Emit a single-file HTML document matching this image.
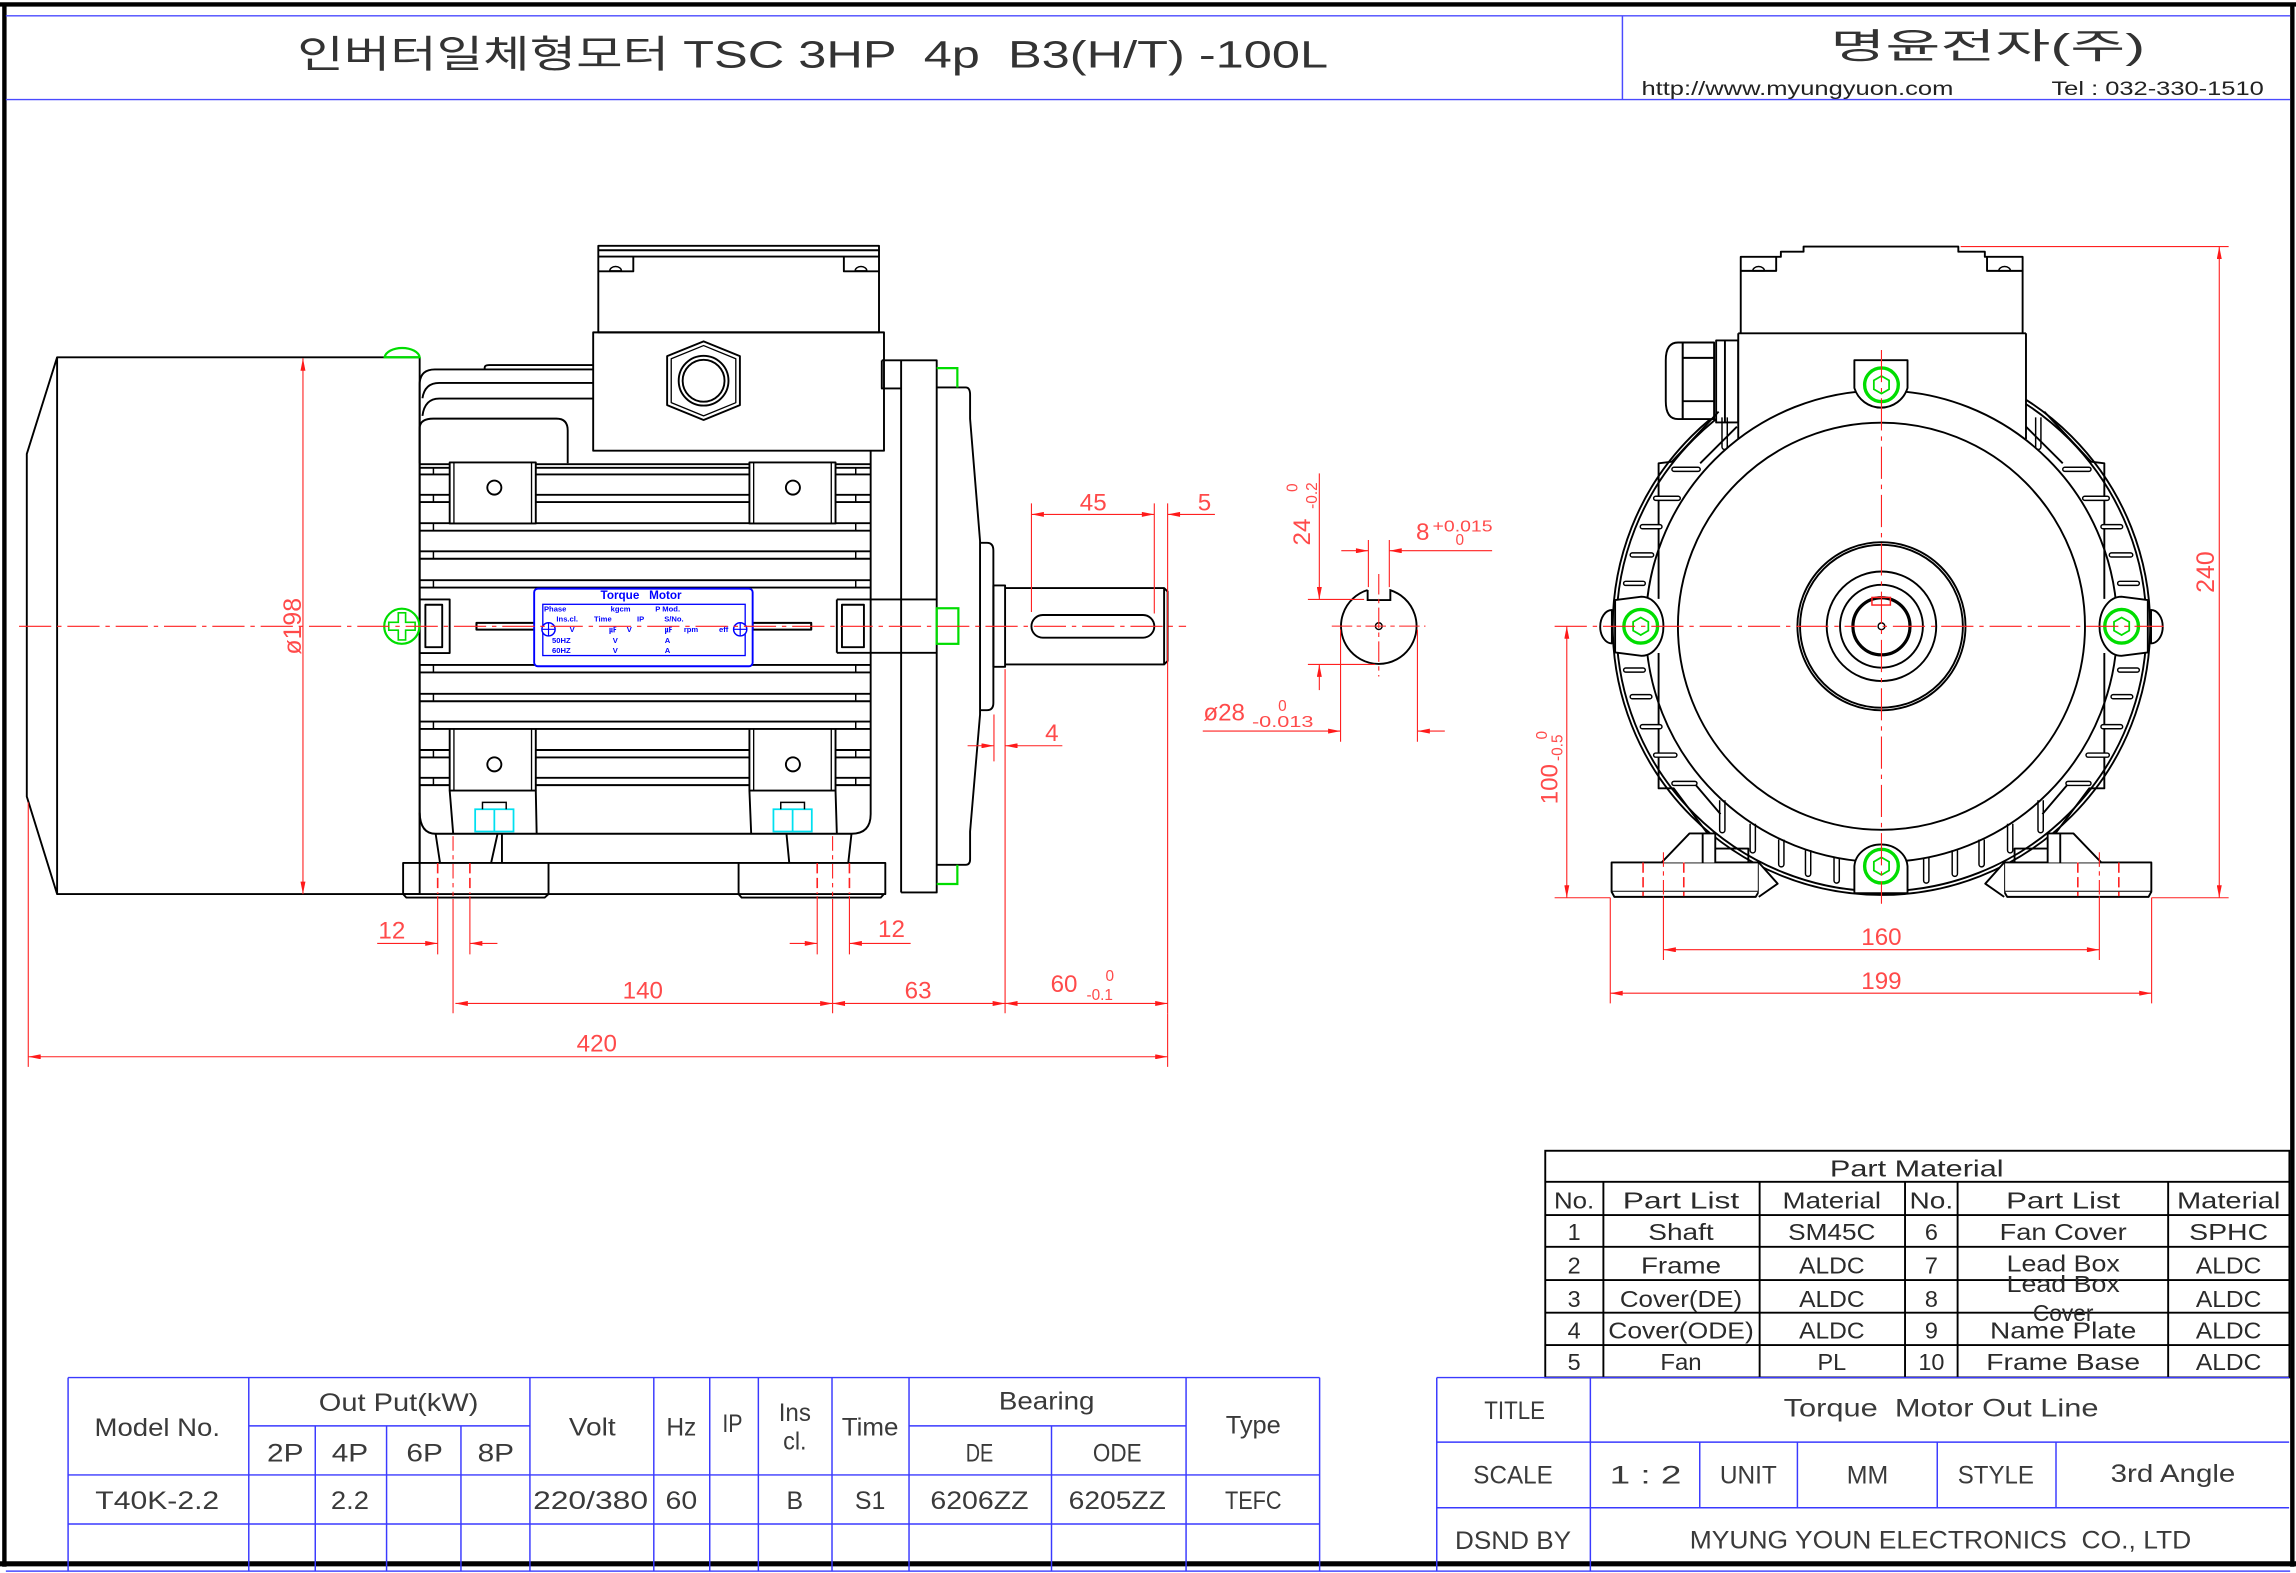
<!DOCTYPE html>
<html><head><meta charset="utf-8">
<style>
html,body{margin:0;padding:0;background:#fff;}
svg{display:block;}
</style></head><body>
<svg width="2296" height="1573" viewBox="0 0 1568 1074.26" preserveAspectRatio="none" xmlns="http://www.w3.org/2000/svg" font-family="'Liberation Sans','Noto Sans CJK KR',sans-serif">
<defs>
<marker id="ar" viewBox="0 0 10 4" refX="10" refY="2" markerWidth="9" markerHeight="3.4" markerUnits="userSpaceOnUse" orient="auto-start-reverse"><path d="M0,0L10,2L0,4Z" fill="#ff1a1a"/></marker>
</defs>
<rect x="0" y="0" width="1568" height="1074.26" fill="#fff"/>

<!-- border -->
<g stroke="#000" fill="none">
<line x1="0" y1="3" x2="1568" y2="3" stroke-width="3"/>
<line x1="3" y1="2" x2="3" y2="1070" stroke-width="3"/>
<line x1="1565.5" y1="2" x2="1565.5" y2="1070" stroke-width="3"/>
<line x1="0" y1="1068" x2="1568" y2="1068" stroke-width="3.5"/>
</g>
<path d="M4,10.8H1564 M4,68H1564 M1108,10.8V68 M4,1073H1564" stroke="#4a4aff" stroke-width="1" fill="none"/>

<!-- header text -->
<text x="203" y="46" font-size="26" textLength="704" lengthAdjust="spacingAndGlyphs" fill="#333" style="white-space:pre">인버터일체형모터 TSC 3HP  4p  B3(H/T) -100L</text>
<text x="1250" y="40" font-size="24" textLength="215" lengthAdjust="spacingAndGlyphs" fill="#333">명윤전자(주)</text>
<text x="1121" y="65" font-size="13" textLength="213" lengthAdjust="spacingAndGlyphs" fill="#222">http://www.myungyuon.com</text>
<text x="1401" y="65" font-size="13" textLength="145" lengthAdjust="spacingAndGlyphs" fill="#222">Tel : 032-330-1510</text>

<!-- ================= LEFT VIEW ================= -->
<g stroke="#000" stroke-width="1.3" fill="none" stroke-linejoin="round">
<path d="M39,244H286.6V610.6H39Z M39,244L18.3,310V544L39,610.6"/>
<path d="M331,252.3V251Q331,249.3 334,249.3H405"/>
<path d="M286.6,262Q287,252.3 297,252.3H405"/>
<path d="M288.5,272Q290,261.5 300,261.5H405"/>
<path d="M288.5,284Q290,272.2 300,272.2H405"/>
<path d="M286.6,316.4V292Q287,285.9 296,285.9H380Q387.7,285.9 387.7,294V316.4"/>
<path d="M286.6,262V589.3"/>
<path d="M408.6,167.9H600.3V227H408.6Z M408.6,170.9H600.3 M408.6,175.2H600.3"/>
<path d="M432.5,175.2V185.3H408.6 M576.3,175.2V185.3H600.3"/>
<path d="M416.4,185A4,3 0 0 1 424.4,185Z M584,185A4,3 0 0 1 592,185Z" stroke-width="1"/>
<rect x="405.1" y="227" width="198.6" height="80.8"/>
<path d="M480.5,233.1L505.3,243.2V276.7L480.5,286.8L455.6,276.7V243.2Z"/>
<path d="M480.5,236L502.5,245V275L480.5,284L458.4,275V245Z" stroke-width="0.9"/>
<circle cx="480.5" cy="260" r="17"/>
<circle cx="480.5" cy="260" r="14.3"/>
<path d="M286.6,317H594.6 M286.6,319.5H594.6 M286.6,324H594.6 M286.6,337.9H594.6 M286.6,342.9H594.6 M286.6,357.3H594.6 M286.6,362.4H594.6 M286.6,376.5H594.6 M286.6,381.6H594.6 M286.6,396.2H594.6 M286.6,401.3H594.6 M286.6,454.1H594.6 M286.6,459.2H594.6 M286.6,473.8H594.6 M286.6,478.9H594.6 M286.6,492.8H594.6 M286.6,497.8H594.6 M286.6,512.2H594.6 M286.6,517.3H594.6 M286.6,531.2H594.6 M286.6,536.2H594.6"/>
<path d="M594.6,307.8V556Q594.6,569.4 581.5,569.4H297.5Q287,569.4 286.6,555"/>
<path d="M584.4,319.5V324 M584.4,337.9V342.9 M584.4,357.3V362.4 M584.4,376.5V381.6 M584.4,396.2V401.3 M584.4,454.1V459.2 M584.4,473.8V478.9 M584.4,492.8V497.8 M584.4,512.2V517.3 M584.4,531.2V536.2 M296,319.5V324 M296,337.9V342.9 M296,357.3V362.4 M296,376.5V381.6 M296,396.2V401.3 M296,454.1V459.2 M296,473.8V478.9 M296,492.8V497.8 M296,512.2V517.3 M296,531.2V536.2" stroke-width="1"/>
<g fill="#fff">
<rect x="307.1" y="315.8" width="58.8" height="41.7"/>
<rect x="511.8" y="315.8" width="58.8" height="41.7"/>
<rect x="307.1" y="497.8" width="58.8" height="42.1"/>
<rect x="511.8" y="497.8" width="58.8" height="42.1"/>
</g>
<path d="M310,315.8V357.5 M363,315.8V357.5 M514.7,315.8V357.5 M567.7,315.8V357.5 M310,497.8V539.9 M363,497.8V539.9 M514.7,497.8V539.9 M567.7,497.8V539.9" stroke-width="0.9"/>
<circle cx="337.6" cy="333" r="4.8"/><circle cx="541.5" cy="333" r="4.8"/>
<circle cx="337.6" cy="522" r="4.8"/><circle cx="541.5" cy="522" r="4.8"/>
<path d="M307.1,539.9L309.5,569.4 M365.9,539.9L366.5,569.4 M511.8,539.9L513,569.4 M570.6,539.9L571.5,569.4"/>
<path d="M297.5,569.4L300.5,589.3 M339.8,569.4L335.4,589.3 M342.8,569.4V589.3 M537.1,569.4L539,589.3 M581.5,569.4L579.3,589.3"/>
<path d="M275.3,589.3H604.6V610.6H275.3Z M374.6,589.3V610.6 M504.4,589.3V610.6 M275.3,610.6L277.5,613H372L374.6,610.6 M504.4,610.6L506.5,613H601.5L603.6,610.6"/>
<path d="M286.6,409.4H307.1V446H286.6 M290.5,413V442H302V413Z"/>
<path d="M571.5,409.4H639.7 M571.5,445.8H639.7 M571.5,409.4V445.8 M575,413V442H590V413Z"/>
<rect x="325.4" y="425.4" width="39.6" height="4.6" stroke-width="1.4"/>
<rect x="514" y="425.4" width="40" height="4.6" stroke-width="1.4"/>
<path d="M602.2,246.1H639.7V609.5H615.4 M615.4,246.1V609.5 M602.2,246.1V265.3H615.4"/>
<path d="M639.7,264.6H659.5Q662.5,264.6 662.5,269.6V286L669.3,369.4V488L662.5,567.8V586.8Q662.5,590.6 659.5,590.6H639.7"/>
<path d="M669.3,370.7H674Q678.4,370.7 678.4,376V480Q678.4,485 674,485H669.3"/>
<rect x="678.4" y="399.8" width="8" height="55.6"/>
<path d="M686.4,401.6H795L797.4,404V451.4L795,453.8H686.4 M795,401.6V453.8"/>
<rect x="704.4" y="420" width="83.9" height="15.5" rx="7.75"/>
</g>
<g stroke="#00e0f0" stroke-width="1.2" fill="none">
<path d="M324.5,552.7H350.7V567.9H324.5Z M337.6,552.7V567.9"/>
<path d="M528.2,552.7H554.4V567.9H528.2Z M541.3,552.7V567.9"/>
</g>
<path d="M329.5,552.7V548H345.7V552.7 M533.2,552.7V548H549.4V552.7" stroke="#000" stroke-width="1" fill="none"/>
<g stroke="#00dd00" stroke-width="1.5" fill="none">
<path d="M262.7,244A12,7 0 0 1 286.6,244Z"/>
<path d="M639.7,251.4H653.8V264.6 M639.7,603.7H653.8V590.6"/>
<rect x="639.7" y="415.4" width="14.8" height="24.3"/>
<circle cx="274.4" cy="427.7" r="12" fill="#fff"/>
<path d="M272,418.5H277V425H283.5V430.4H277V437H272V430.4H265.5V425H272Z" stroke-width="1.1"/>
</g>
<g stroke="#0000ff" fill="none">
<rect x="364.8" y="402" width="149.2" height="53" rx="2.5" stroke-width="1.3" fill="#fff"/>
<rect x="370.7" y="412.7" width="138.2" height="35" stroke-width="0.9"/>
<circle cx="374.6" cy="429.8" r="4.5" fill="#fff"/><path d="M374.6,425.3V434.3 M370.1,429.8H379.1" stroke-width="0.8"/>
<circle cx="505.5" cy="429.8" r="4.5" fill="#fff"/><path d="M505.5,425.3V434.3 M501,429.8H510" stroke-width="0.8"/>
</g>
<g fill="#0000ff" font-weight="bold" font-size="5.2">
<text x="437.8" y="409" font-size="8" text-anchor="middle" style="white-space:pre">Torque   Motor</text>
<text x="371.5" y="417.6">Phase</text><text x="417" y="417.6">kgcm</text><text x="447.5" y="417.6">P Mod.</text>
<text x="380" y="424.5">Ins.cl.</text><text x="405.7" y="424.5">Time</text><text x="435" y="424.5">IP</text><text x="453.6" y="424.5">S/No.</text>
<text x="389" y="431.6">V</text><text x="416" y="431.6">㎌</text><text x="428" y="431.6">V</text><text x="454" y="431.6">㎌</text><text x="467" y="431.6">rpm</text><text x="491" y="431.6">eff</text>
<text x="377" y="439">50HZ</text><text x="418.5" y="439">V</text><text x="454" y="439">A</text>
<text x="377" y="446">60HZ</text><text x="418.5" y="446">V</text><text x="454" y="446">A</text>
</g>

<g stroke="#ff2020" stroke-width="0.75" fill="none">
<path d="M13,427.7H810" stroke-dasharray="22 4 3 4"/>
<path d="M206.9,244.7V610.6" marker-start="url(#ar)" marker-end="url(#ar)"/>
<path d="M704.4,343.8V418 M788.3,343.8V419 M797.4,343.8V692"/>
<path d="M704.4,351.3H788.3" marker-start="url(#ar)" marker-end="url(#ar)"/>
<path d="M829.7,351.3H797.4" marker-end="url(#ar)"/>
<path d="M678.8,488V520 M686.4,457V692"/>
<path d="M660.8,509.3H678.8" marker-end="url(#ar)"/>
<path d="M725.5,509.3H686.4" marker-end="url(#ar)"/>
<path d="M311,685.3H568.6" marker-start="url(#ar)" marker-end="url(#ar)"/>
<path d="M568.6,685.3H686.4" marker-start="url(#ar)" marker-end="url(#ar)"/>
<path d="M686.4,685.3H797.4" marker-start="url(#ar)" marker-end="url(#ar)"/>
<path d="M19.3,721.7H797.4" marker-start="url(#ar)" marker-end="url(#ar)"/>
<path d="M19.3,548V728.6 M797.4,692V728.6"/>
<path d="M309.4,571V612 M568.6,571V612" stroke-dasharray="10 3 3 3"/>
<path d="M309.4,614V692 M568.6,614V692"/>
<path d="M298.9,589.5V610.5 M320.9,589.5V610.5 M558.1,589.5V610.5 M580.1,589.5V610.5" stroke-dasharray="7 3" stroke-width="1.1"/>
<path d="M298.9,612V651.8 M320.9,612V651.8 M558.1,612V651.8 M580.1,612V651.8"/>
<path d="M257.6,644.3H298.9" marker-end="url(#ar)"/>
<path d="M339.7,644.3H320.9" marker-end="url(#ar)"/>
<path d="M539.3,644.3H558.1" marker-end="url(#ar)"/>
<path d="M621.9,644.3H580.1" marker-end="url(#ar)"/>
</g>
<g fill="#ff4a4a" font-size="16.5">
<text transform="translate(205.5,427.7) rotate(-90)" text-anchor="middle" font-size="17">ø198</text>
<text x="746.6" y="348.5" text-anchor="middle">45</text>
<text x="822.6" y="348.5" text-anchor="middle">5</text>
<text x="718.3" y="506" text-anchor="middle">4</text>
<text x="439" y="682" text-anchor="middle">140</text>
<text x="627" y="682" text-anchor="middle">63</text>
<text x="717.5" y="677.5">60</text>
<text x="755" y="670" font-size="10.5">0</text>
<text x="742" y="683" font-size="10.5">-0.1</text>
<text x="407.6" y="718" text-anchor="middle">420</text>
<text x="267.6" y="641" text-anchor="middle">12</text>
<text x="608.8" y="640" text-anchor="middle">12</text>
</g>

<!-- ================= KEY SECTION ================= -->
<g stroke="#000" stroke-width="1.3" fill="none">
<path d="M934,402.95V409.8H949.5V403.04A25.8,25.8 0 1 1 934,402.95"/>
<circle cx="941.6" cy="427.6" r="2.3" stroke-width="1"/>
</g>
<g stroke="#ff2020" stroke-width="0.75" fill="none">
<path d="M909.5,427.6H973.5 M941.6,392V462" stroke-dasharray="14 3 3 3"/>
<path d="M901,323.3V409.4" marker-end="url(#ar)"/>
<path d="M901,471.3V453.8" marker-end="url(#ar)"/>
<path d="M893.2,409.4H931.6 M893.2,453.8H939"/>
<path d="M934.5,368.8V401 M948.8,368.8V401"/>
<path d="M916,376.1H934.5" marker-end="url(#ar)"/>
<path d="M1019,376.1H948.8" marker-end="url(#ar)"/>
<path d="M821.4,499.3H915.5" marker-end="url(#ar)"/>
<path d="M986.7,499.3H968" marker-end="url(#ar)"/>
<path d="M915.5,430V506.6 M968,430V506.6"/>
</g>
<g fill="#ff4a4a" font-size="16.5">
<text transform="translate(894.5,372.5) rotate(-90)">24</text>
<text transform="translate(886,336) rotate(-90)" font-size="10.5">0</text>
<text transform="translate(899.5,347.5) rotate(-90)" font-size="10.5">-0.2</text>
<text x="967" y="368.8">8</text>
<text x="978.3" y="363" font-size="10.5" textLength="41" lengthAdjust="spacingAndGlyphs">+0.015</text>
<text x="994" y="372.2" font-size="10.5">0</text>
<text x="821.8" y="492">ø28</text>
<text x="872.9" y="485.5" font-size="10.5">0</text>
<text x="855" y="496.5" font-size="10.5" textLength="42" lengthAdjust="spacingAndGlyphs">-0.013</text>
</g>

<!-- ================= RIGHT VIEW ================= -->
<g stroke="#000" stroke-width="1.3" fill="none" stroke-linejoin="round">
<circle cx="1284.9" cy="427.7" r="183.5"/>
<circle cx="1284.9" cy="427.7" r="181"/>
<rect x="1187.1" y="168.4" width="196.5" height="131" fill="#fff" stroke="none"/>
<path d="M1187.1,299.8V227.6 M1383.6,299.8V227.6 M1187.1,227.6H1383.6 M1188.8,227.6V175.4H1216.2V171.9H1231.7V168.4H1337.4V171.9H1355.5V175.4H1381.3V227.6"/>
<path d="M1188.8,185H1213V175.4 M1381.3,185H1357V175.4"/>
<path d="M1197,185A4,3 0 0 1 1205,185Z M1365,185A4,3 0 0 1 1373,185Z" stroke-width="1"/>
<path d="M1149.2,233.9H1146Q1137.6,233.9 1137.6,246V274Q1137.6,286.2 1146,286.2H1149.2Z" fill="#fff"/>
<rect x="1149.2" y="233.9" width="21.4" height="52.3" fill="#fff"/>
<path d="M1149.2,244.4H1170.6 M1149.2,274H1170.6"/>
<rect x="1172" y="232.5" width="15" height="56" fill="#fff"/>
<path d="M1178,232.5V288.5"/>
<circle cx="1284.9" cy="427.7" r="161"/>
<path d="M1132.7,409V316.4L1141.8,315.3L1173.7,281.1 M1161.1,316.4L1186.2,291.4"/>
<path d="M1437.1,409V316.4L1428,315.3L1396.1,281.1 M1408.7,316.4L1383.6,291.4"/>
<path d="M1132.7,446V538.4H1143L1166,569 M1158,536L1175,556"/>
<path d="M1437.1,446V538.4H1426.8L1403.8,569 M1411.8,536L1394.8,556"/>
<g fill="#fff" stroke-width="1">
<rect x="1141.8" y="319.1" width="19.3" height="2.8" rx="1.4"/>
<rect x="1129.3" y="338.9" width="18.2" height="2.8" rx="1.4"/>
<rect x="1120.2" y="358.3" width="14.8" height="2.8" rx="1.4"/>
<rect x="1113.3" y="377.6" width="16" height="2.8" rx="1.4"/>
<rect x="1108.8" y="397" width="14.8" height="2.8" rx="1.4"/>
<rect x="1108.8" y="456.2" width="14.8" height="2.8" rx="1.4"/>
<rect x="1113.3" y="474.4" width="14.8" height="2.8" rx="1.4"/>
<rect x="1120.2" y="494.9" width="14.8" height="2.8" rx="1.4"/>
<rect x="1129.3" y="514.3" width="15.9" height="2.8" rx="1.4"/>
<rect x="1141.8" y="533.6" width="17.1" height="2.8" rx="1.4"/>
<rect x="1408.7" y="319.1" width="19.3" height="2.8" rx="1.4"/>
<rect x="1422.3" y="338.9" width="18.2" height="2.8" rx="1.4"/>
<rect x="1434.8" y="358.3" width="14.8" height="2.8" rx="1.4"/>
<rect x="1440.5" y="377.6" width="16" height="2.8" rx="1.4"/>
<rect x="1446.2" y="397" width="14.8" height="2.8" rx="1.4"/>
<rect x="1446.2" y="456.2" width="14.8" height="2.8" rx="1.4"/>
<rect x="1441.7" y="474.4" width="14.8" height="2.8" rx="1.4"/>
<rect x="1434.8" y="494.9" width="14.8" height="2.8" rx="1.4"/>
<rect x="1424.6" y="514.3" width="15.9" height="2.8" rx="1.4"/>
<rect x="1410.9" y="533.6" width="17.1" height="2.8" rx="1.4"/>
</g>
<path stroke-width="1" d="M1174.4,546.5V566.9A1.8,1.8 0 0 0 1178,566.9V546.5 M1195.2,562.6V580.7A1.8,1.8 0 0 0 1198.8,580.7V562.6 M1214.7,573.4V590.2A1.8,1.8 0 0 0 1218.3,590.2V573.4 M1233,580.7V596.7A1.8,1.8 0 0 0 1236.6,596.7V580.7 M1252.5,585.8V601.3A1.8,1.8 0 0 0 1256.1,601.3V585.8 M1391.8,546.5V566.9A1.8,1.8 0 0 0 1395.4,566.9V546.5 M1371,562.6V580.7A1.8,1.8 0 0 0 1374.6,580.7V562.6 M1351.5,573.4V590.2A1.8,1.8 0 0 0 1355.1,590.2V573.4 M1333.2,580.7V596.7A1.8,1.8 0 0 0 1336.8,596.7V580.7 M1313.7,585.8V601.3A1.8,1.8 0 0 0 1317.3,601.3V585.8 M1176,285V305.2A1.8,1.8 0 0 0 1179.6,305.2V285 M1390.2,285V305.2A1.8,1.8 0 0 0 1393.8,305.2V285"/>
<g fill="#fff">
<path d="M1266.4,265V246H1302.7V265A19,19 0 0 1 1266.4,265Z"/>
<path d="M1103,409.8L1121,407.5A15,20.2 0 0 1 1121,447.9L1103,445.6Z"/>
<path d="M1466.8,409.8L1448.8,407.5A15,20.2 0 0 0 1448.8,447.9L1466.8,445.6Z"/>
<path d="M1266.4,610V591.5A18.2,16 0 0 1 1302.7,591.5V610Z"/>
<path d="M1100.8,416.6A8,11.4 0 0 0 1100.8,439.4Z"/>
<path d="M1469,416.6A8,11.4 0 0 1 1469,439.4Z"/>
</g>
<circle cx="1284.9" cy="427.7" r="139"/>
<circle cx="1284.9" cy="427.7" r="57.4"/>
<circle cx="1284.9" cy="427.7" r="55.6"/>
<circle cx="1284.9" cy="427.7" r="37.4"/>
<circle cx="1284.9" cy="427.7" r="28.3"/>
<circle cx="1284.9" cy="427.7" r="19.5" stroke-width="2.2"/>
<circle cx="1284.9" cy="427.7" r="2.3" stroke-width="1"/>
<g fill="#fff">
<path d="M1100.6,589H1201.1V609H1100.6Z"/>
<path d="M1100.6,609L1102.5,612.5H1199L1201.1,609"/>
<path d="M1201.1,589L1214,603.5L1201.1,612.5"/>
<path d="M1134.8,589L1153.8,569.2H1171.4V589"/>
<path d="M1469.2,589H1368.7V609H1469.2Z"/>
<path d="M1469.2,609L1467.3,612.5H1370.8L1368.7,609"/>
<path d="M1368.7,589L1355.8,603.5L1368.7,612.5"/>
<path d="M1435,589L1416,569.2H1398.4V589"/>
</g>
<path d="M1162.8,569.2V589 M1171.4,579.5H1194V589 M1407,569.2V589 M1398.4,579.5H1375.8V589"/>
</g>
<g stroke="#00dd00" fill="none">
<circle cx="1284.9" cy="262.8" r="11.5" stroke-width="2.3"/>
<circle cx="1120.5" cy="427.7" r="11.5" stroke-width="2.3"/>
<circle cx="1448.9" cy="427.7" r="11.5" stroke-width="2.3"/>
<circle cx="1284.9" cy="591.5" r="11.5" stroke-width="2.3"/>
<g stroke-width="1.2">
<polygon points="1284.9,256.8 1290.1,259.8 1290.1,265.8 1284.9,268.8 1279.7,265.8 1279.7,259.8"/>
<polygon points="1120.5,421.7 1125.7,424.7 1125.7,430.7 1120.5,433.7 1115.3,430.7 1115.3,424.7"/>
<polygon points="1448.9,421.7 1454.1,424.7 1454.1,430.7 1448.9,433.7 1443.7,430.7 1443.7,424.7"/>
<polygon points="1284.9,585.5 1290.1,588.5 1290.1,594.5 1284.9,597.5 1279.7,594.5 1279.7,588.5"/>
</g>
</g>
<g stroke="#ff2020" stroke-width="0.75" fill="none">
<rect x="1278.4" y="408" width="12.6" height="5.2" stroke-width="1"/>
<path d="M1061.7,427.7H1477.6 M1284.9,239V617.2" stroke-dasharray="22 4 3 4"/>
<path d="M1136,582V612 M1433.7,582V612" stroke-dasharray="10 3 3 3"/>
<path d="M1136,612V655.6 M1433.7,612V655.6"/>
<path d="M1122.1,589V612 M1149.9,589V612 M1419,589V612 M1447,589V612" stroke-dasharray="7 3" stroke-width="1.1"/>
<path d="M1515.6,168.4V613.1" marker-start="url(#ar)" marker-end="url(#ar)"/>
<path d="M1339,168.4H1522 M1469.4,613.1H1522"/>
<path d="M1070,427.7V613.1" marker-start="url(#ar)" marker-end="url(#ar)"/>
<path d="M1061.7,613.1H1099.7"/>
<path d="M1136,648.6H1433.7" marker-start="url(#ar)" marker-end="url(#ar)"/>
<path d="M1099.7,678.3H1469.4" marker-start="url(#ar)" marker-end="url(#ar)"/>
<path d="M1099.7,613V685.2 M1469.4,613V685.2"/>
</g>
<g fill="#ff4a4a" font-size="16.5">
<text transform="translate(1512,390.7) rotate(-90)" text-anchor="middle" font-size="17">240</text>
<text transform="translate(1063.5,549.3) rotate(-90)">100</text>
<text transform="translate(1067,519.7) rotate(-90)" font-size="10.5">-0.5</text>
<text transform="translate(1056.5,505) rotate(-90)" font-size="10.5">0</text>
<text x="1284.9" y="645.5" text-anchor="middle">160</text>
<text x="1284.9" y="675.5" text-anchor="middle">199</text>
</g>

<!-- ================= PART MATERIAL TABLE ================= -->
<g stroke="#000" stroke-width="1.3" fill="none">
<rect x="1055.3" y="785.9" width="508.2" height="154.8"/>
<path d="M1055.3,807.1H1563.5 M1055.3,829.8H1563.5 M1055.3,851.5H1563.5 M1055.3,874.2H1563.5 M1055.3,896.5H1563.5 M1055.3,918.6H1563.5 M1095,807.1V940.7 M1201.7,807.1V940.7 M1301,807.1V940.7 M1336.9,807.1V940.7 M1480.7,807.1V940.7"/>
</g>
<g fill="#2a2a2a" font-size="16" text-anchor="middle">
<text x="1309" y="803.5" textLength="118.6" lengthAdjust="spacingAndGlyphs">Part Material</text>
<text x="1075" y="825.3" textLength="27.5" lengthAdjust="spacingAndGlyphs">No.</text>
<text x="1148" y="825.3" textLength="79.5" lengthAdjust="spacingAndGlyphs">Part List</text>
<text x="1251" y="825.3" textLength="67.3" lengthAdjust="spacingAndGlyphs">Material</text>
<text x="1319" y="825.3" textLength="29.8" lengthAdjust="spacingAndGlyphs">No.</text>
<text x="1409" y="825.3" textLength="77.9" lengthAdjust="spacingAndGlyphs">Part List</text>
<text x="1522" y="825.3" textLength="70.6" lengthAdjust="spacingAndGlyphs">Material</text>

<text x="1075" y="846.9">1</text>
<text x="1148" y="846.9" textLength="44.7" lengthAdjust="spacingAndGlyphs">Shaft</text>
<text x="1251" y="846.9" textLength="59.6" lengthAdjust="spacingAndGlyphs">SM45C</text>
<text x="1319" y="846.9">6</text>
<text x="1409" y="846.9" textLength="86.8" lengthAdjust="spacingAndGlyphs">Fan Cover</text>
<text x="1522" y="846.9" textLength="54" lengthAdjust="spacingAndGlyphs">SPHC</text>

<text x="1075" y="869.7">2</text>
<text x="1148" y="869.7" textLength="54.7" lengthAdjust="spacingAndGlyphs">Frame</text>
<text x="1251" y="869.7" textLength="44.7" lengthAdjust="spacingAndGlyphs">ALDC</text>
<text x="1319" y="869.7">7</text>
<text x="1409" y="868.5" textLength="77.2" lengthAdjust="spacingAndGlyphs">Lead Box</text>
<text x="1522" y="869.7" textLength="44.7" lengthAdjust="spacingAndGlyphs">ALDC</text>

<text x="1075" y="892.5">3</text>
<text x="1148" y="892.5" textLength="83.5" lengthAdjust="spacingAndGlyphs">Cover(DE)</text>
<text x="1251" y="892.5" textLength="44.7" lengthAdjust="spacingAndGlyphs">ALDC</text>
<text x="1319" y="892.5">8</text>
<text x="1409" y="882.5" textLength="77.2" lengthAdjust="spacingAndGlyphs">Lead Box</text>
<text x="1409" y="902" textLength="41.4" lengthAdjust="spacingAndGlyphs">Cover</text>
<text x="1522" y="892.5" textLength="44.7" lengthAdjust="spacingAndGlyphs">ALDC</text>

<text x="1075" y="914.1">4</text>
<text x="1148" y="914.1" textLength="99.4" lengthAdjust="spacingAndGlyphs">Cover(ODE)</text>
<text x="1251" y="914.1" textLength="44.7" lengthAdjust="spacingAndGlyphs">ALDC</text>
<text x="1319" y="914.1">9</text>
<text x="1409" y="914.1" textLength="100" lengthAdjust="spacingAndGlyphs">Name Plate</text>
<text x="1522" y="914.1" textLength="44.7" lengthAdjust="spacingAndGlyphs">ALDC</text>

<text x="1075" y="935.7">5</text>
<text x="1148" y="935.7" textLength="28.2" lengthAdjust="spacingAndGlyphs">Fan</text>
<text x="1251" y="935.7">PL</text>
<text x="1319" y="935.7">10</text>
<text x="1409" y="935.7" textLength="105" lengthAdjust="spacingAndGlyphs">Frame Base</text>
<text x="1522" y="935.7" textLength="44.7" lengthAdjust="spacingAndGlyphs">ALDC</text>
</g>

<!-- ================= SPEC TABLE ================= -->
<path d="M46.5,940.8H901.2 M46.5,1007.3H901.2 M46.5,1040.8H901.2 M169.9,973.8H361.9 M620.8,973.8H810 M46.5,940.8V1073 M169.9,940.8V1073 M215.3,973.8V1073 M264,973.8V1073 M314.8,973.8V1073 M361.9,940.8V1073 M446.5,940.8V1073 M484.7,940.8V1073 M517.9,940.8V1073 M568.2,940.8V1073 M620.8,940.8V1073 M718.1,973.8V1073 M810,940.8V1073 M901.2,940.8V1073" stroke="#3a3aff" stroke-width="1" fill="none"/>
<g fill="#3a3a3a" font-size="17" text-anchor="middle">
<text x="107.4" y="980.7" textLength="85.7" lengthAdjust="spacingAndGlyphs">Model No.</text>
<text x="272.2" y="963.5" textLength="109" lengthAdjust="spacingAndGlyphs">Out Put(kW)</text>
<text x="194.8" y="998" textLength="24.9" lengthAdjust="spacingAndGlyphs">2P</text>
<text x="239" y="998" textLength="24.9" lengthAdjust="spacingAndGlyphs">4P</text>
<text x="290" y="998" textLength="24.9" lengthAdjust="spacingAndGlyphs">6P</text>
<text x="338.6" y="998" textLength="24.9" lengthAdjust="spacingAndGlyphs">8P</text>
<text x="404.5" y="980.3" textLength="32" lengthAdjust="spacingAndGlyphs">Volt</text>
<text x="465.3" y="980.3" textLength="20.5" lengthAdjust="spacingAndGlyphs">Hz</text>
<text x="500.2" y="978" textLength="13.8" lengthAdjust="spacingAndGlyphs">IP</text>
<text x="542.8" y="970.3" textLength="22" lengthAdjust="spacingAndGlyphs">Ins</text>
<text x="542.8" y="989.9" textLength="16" lengthAdjust="spacingAndGlyphs">cl.</text>
<text x="594.2" y="980.3" textLength="38.7" lengthAdjust="spacingAndGlyphs">Time</text>
<text x="714.8" y="962.5" textLength="65.3" lengthAdjust="spacingAndGlyphs">Bearing</text>
<text x="668.9" y="998" textLength="18.8" lengthAdjust="spacingAndGlyphs">DE</text>
<text x="763" y="998" textLength="33.2" lengthAdjust="spacingAndGlyphs">ODE</text>
<text x="855.9" y="979" textLength="37.6" lengthAdjust="spacingAndGlyphs">Type</text>
<text x="107.4" y="1030.4" textLength="84.6" lengthAdjust="spacingAndGlyphs">T40K-2.2</text>
<text x="239" y="1030.4" textLength="26" lengthAdjust="spacingAndGlyphs">2.2</text>
<text x="403.3" y="1030.4" textLength="78.5" lengthAdjust="spacingAndGlyphs">220/380</text>
<text x="465.3" y="1030.4" textLength="21.6" lengthAdjust="spacingAndGlyphs">60</text>
<text x="542.8" y="1030.4">B</text>
<text x="594.2" y="1030.4">S1</text>
<text x="668.9" y="1030.4" textLength="67" lengthAdjust="spacingAndGlyphs">6206ZZ</text>
<text x="763" y="1030.4" textLength="66.4" lengthAdjust="spacingAndGlyphs">6205ZZ</text>
<text x="855.9" y="1030.4" textLength="38.7" lengthAdjust="spacingAndGlyphs">TEFC</text>
</g>

<!-- ================= TITLE BLOCK ================= -->
<path d="M981.2,940.8H1563.3 M981.2,984.9H1563.3 M981.2,1029.7H1563.3 M981.2,940.8V1073 M1086.1,940.8V1073 M1160.8,984.9V1029.7 M1227.5,984.9V1029.7 M1323,984.9V1029.7 M1404.1,984.9V1029.7" stroke="#3a3aff" stroke-width="1" fill="none"/>
<g fill="#3a3a3a" font-size="17" text-anchor="middle">
<text x="1034.4" y="969" textLength="41.5" lengthAdjust="spacingAndGlyphs">TITLE</text>
<text x="1325.6" y="967.3" textLength="215" lengthAdjust="spacingAndGlyphs" style="white-space:pre">Torque  Motor Out Line</text>
<text x="1033.3" y="1013" textLength="54.3" lengthAdjust="spacingAndGlyphs">SCALE</text>
<text x="1123.8" y="1013" textLength="49" lengthAdjust="spacingAndGlyphs">1 : 2</text>
<text x="1194" y="1013" textLength="38.9" lengthAdjust="spacingAndGlyphs">UNIT</text>
<text x="1275.4" y="1013">MM</text>
<text x="1363" y="1013" textLength="52" lengthAdjust="spacingAndGlyphs">STYLE</text>
<text x="1484" y="1012" textLength="85.2" lengthAdjust="spacingAndGlyphs">3rd Angle</text>
<text x="1033.3" y="1058" textLength="79.2" lengthAdjust="spacingAndGlyphs">DSND BY</text>
<text x="1325.2" y="1057.5" textLength="342.5" lengthAdjust="spacingAndGlyphs" style="white-space:pre">MYUNG YOUN ELECTRONICS  CO., LTD</text>
</g>
</svg>
</body></html>
